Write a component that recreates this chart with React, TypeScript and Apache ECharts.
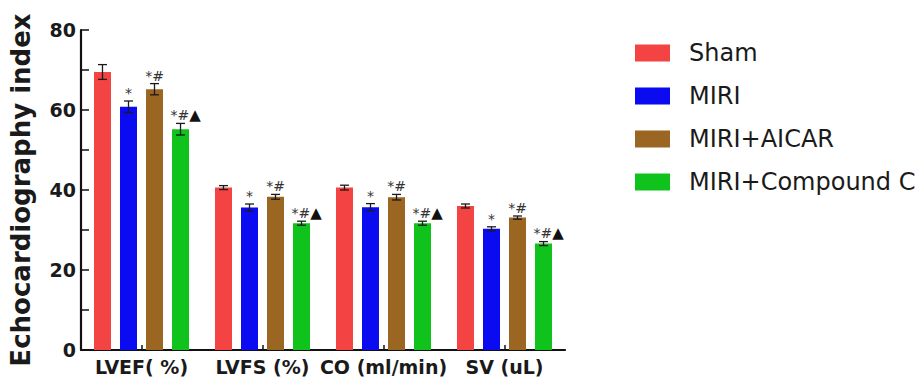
import React, { useEffect, useRef } from "react";
import * as echarts from "echarts";

const categories = ["LVEF( %)", "LVFS (%)", "CO (ml/min)", "SV (uL)"];
const groups = ["Sham", "MIRI", "MIRI+AICAR", "MIRI+Compound C"];
const colors = ["#F44343", "#0B0BF2", "#9A6622", "#10C21C"];

const shamMean = [69.5, 40.6, 40.6, 36.0];
const shamErr = [1.85, 0.5, 0.6, 0.5];
const miriMean = [60.8, 35.6, 35.7, 30.3];
const miriErr = [1.45, 0.9, 0.9, 0.5];
const aicarMean = [65.2, 38.3, 38.2, 33.1];
const aicarErr = [1.4, 0.6, 0.7, 0.4];
const compoundMean = [55.2, 31.7, 31.7, 26.6];
const compoundErr = [1.45, 0.5, 0.5, 0.5];

const means = [shamMean, miriMean, aicarMean, compoundMean];
const errs = [shamErr, miriErr, aicarErr, compoundErr];
const sigMarks = ["", "*", "*#", "*#▲"];

const yTicks = [0, 20, 40, 60, 80];

const BAR_WIDTH = 17;
const BAR_GAP = 0.53;
const FONT = "DejaVu Sans";

export default function App() {
  const ref = useRef<HTMLDivElement>(null);

  useEffect(() => {
    if (!ref.current) return;
    const chart = echarts.init(ref.current, undefined, { renderer: "svg" });
    const step = BAR_WIDTH * (1 + BAR_GAP);

    const barSeries = groups.map((name, gi) => ({
      name,
      type: "bar",
      data: means[gi],
      barWidth: BAR_WIDTH,
      barGap: BAR_GAP * 100 + "%",
      itemStyle: { color: colors[gi] },
      z: 2,
    }));

    const errSeries = groups.map((name, gi) => ({
      name: name + " error",
      type: "custom",
      z: 5,
      data: categories.map((_, ci) => [ci, means[gi][ci], errs[gi][ci]]),
      renderItem: (params: any, api: any) => {
        const ci = api.value(0);
        const m = api.value(1);
        const e = api.value(2);
        const offset = (gi - 1.5) * step;
        const pMean = api.coord([ci, m]);
        const x = pMean[0] + offset;
        const yTop = api.coord([ci, m + e])[1];
        const yBot = api.coord([ci, m - e])[1];
        const capHalf = 4.5;
        const lineStyle = { stroke: "#1a1a1a", lineWidth: 1.3 };
        const children: any[] = [
          { type: "line", shape: { x1: x, y1: yTop, x2: x, y2: yBot }, style: lineStyle },
          { type: "line", shape: { x1: x - capHalf, y1: yTop, x2: x + capHalf, y2: yTop }, style: lineStyle },
          { type: "line", shape: { x1: x - capHalf, y1: yBot, x2: x + capHalf, y2: yBot }, style: lineStyle },
        ];
        const mark = sigMarks[gi];
        if (mark) {
          const hasTri = mark.includes("▲");
          const base = mark.replace("▲", "");
          children.push({
            type: "text",
            x: hasTri ? x - 10 : x,
            y: yTop - 1,
            style: {
              text: hasTri ? `{a|${base}}{b|▲}` : `{a|${base}}`,
              align: hasTri ? "left" : "center",
              verticalAlign: "bottom",
              rich: {
                a: { fontFamily: FONT, fontSize: 14, fill: "#333" },
                b: { fontFamily: FONT, fontSize: 15, fill: "#111" },
              },
            },
          });
        }
        return { type: "group", children };
      },
    }));

    chart.setOption({
      animation: false,
      grid: { left: 81, right: 354, top: 30, bottom: 31, containLabel: false },
      legend: {
        orient: "vertical",
        left: 635,
        top: 41,
        data: groups,
        icon: "rect",
        itemWidth: 35,
        itemHeight: 17,
        itemGap: 19,
        padding: 0,
        textStyle: {
          fontFamily: FONT,
          fontSize: 24,
          color: "#1a1a1a",
          padding: [0, 0, 0, 14],
        },
      },
      xAxis: {
        type: "category",
        data: categories,
        axisLine: { lineStyle: { color: "#111", width: 2.2 } },
        axisTick: { show: true, alignWithLabel: true, inside: true, length: 5, lineStyle: { color: "#111", width: 1.5 } },
        axisLabel: {
          interval: 0,
          hideOverlap: false,
          fontFamily: FONT,
          fontWeight: "bold",
          fontSize: 19,
          color: "#1a1a1a",
          margin: 7,
        },
      },
      yAxis: {
        type: "value",
        min: yTicks[0],
        max: yTicks[yTicks.length - 1],
        interval: 20,
        name: "Echocardiography index",
        nameLocation: "middle",
        nameGap: 47,
        nameTextStyle: { fontFamily: FONT, fontWeight: "bold", fontSize: 26, color: "#1a1a1a" },
        axisLine: { show: true, lineStyle: { color: "#111", width: 2.2 } },
        axisTick: { show: true, inside: true, length: 8, lineStyle: { color: "#111", width: 1.5 } },
        minorTick: { show: true, splitNumber: 2, length: 8, lineStyle: { color: "#111", width: 1.5 } },
        splitLine: { show: false },
        axisLabel: { fontFamily: FONT, fontWeight: "bold", fontSize: 19, color: "#1a1a1a", margin: 5 },
      },
      series: [...barSeries, ...errSeries],
    });

    return () => chart.dispose();
  }, []);

  return <div ref={ref} style={{ width: 919, height: 381, position: "absolute", left: 0, top: 0, background: "#fff" }} />;
}
